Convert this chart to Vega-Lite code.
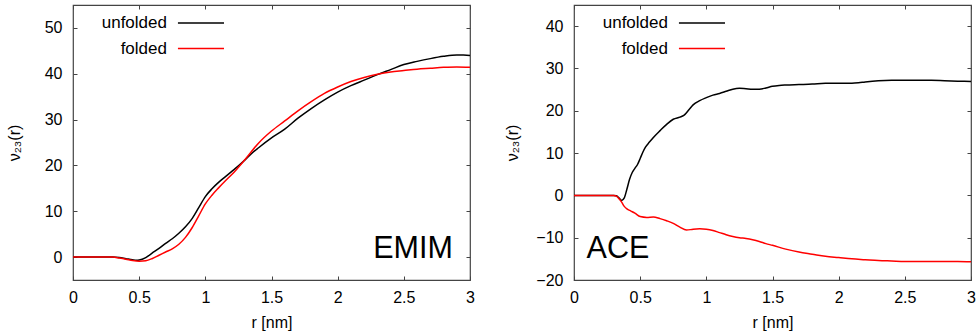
{
  "$schema": "https://vega.github.io/schema/vega-lite/v6.json",
  "padding": {"left": 5, "top": 3, "right": 5, "bottom": 2},
  "spacing": 28,
  "config": {
    "font": "Liberation Sans",
    "view": {"stroke": "#444", "strokeWidth": 1.2},
    "axis": {
      "grid": false,
      "domain": false,
      "tickColor": "#444",
      "tickSize": -4,
      "labelFontSize": 16,
      "labelColor": "#000",
      "titleFontSize": 16,
      "titleFontWeight": "normal",
      "titleColor": "#000",
      "format": "~r"
    }
  },
  "datasets": {
    "emim": [
      {"r":0,"v":0,"series":"unfolded"},{"r":0.1,"v":0,"series":"unfolded"},{"r":0.2,"v":0,"series":"unfolded"},{"r":0.3,"v":0,"series":"unfolded"},{"r":0.35,"v":-0.1,"series":"unfolded"},{"r":0.4,"v":-0.35,"series":"unfolded"},{"r":0.45,"v":-0.6,"series":"unfolded"},{"r":0.48,"v":-0.7,"series":"unfolded"},{"r":0.5,"v":-0.65,"series":"unfolded"},{"r":0.55,"v":-0.1,"series":"unfolded"},{"r":0.6,"v":0.9,"series":"unfolded"},{"r":0.65,"v":1.9,"series":"unfolded"},{"r":0.7,"v":3.0,"series":"unfolded"},{"r":0.75,"v":4.0,"series":"unfolded"},{"r":0.8,"v":5.2,"series":"unfolded"},{"r":0.85,"v":6.6,"series":"unfolded"},{"r":0.9,"v":8.4,"series":"unfolded"},{"r":0.95,"v":10.8,"series":"unfolded"},{"r":1.0,"v":13.2,"series":"unfolded"},{"r":1.05,"v":14.9,"series":"unfolded"},{"r":1.1,"v":16.3,"series":"unfolded"},{"r":1.15,"v":17.5,"series":"unfolded"},{"r":1.2,"v":18.7,"series":"unfolded"},{"r":1.25,"v":19.9,"series":"unfolded"},{"r":1.3,"v":21.2,"series":"unfolded"},{"r":1.35,"v":22.6,"series":"unfolded"},{"r":1.4,"v":23.8,"series":"unfolded"},{"r":1.5,"v":26.0,"series":"unfolded"},{"r":1.6,"v":27.9,"series":"unfolded"},{"r":1.7,"v":30.3,"series":"unfolded"},{"r":1.8,"v":32.4,"series":"unfolded"},{"r":1.9,"v":34.3,"series":"unfolded"},{"r":2.0,"v":36.0,"series":"unfolded"},{"r":2.1,"v":37.4,"series":"unfolded"},{"r":2.2,"v":38.6,"series":"unfolded"},{"r":2.3,"v":39.8,"series":"unfolded"},{"r":2.4,"v":40.9,"series":"unfolded"},{"r":2.5,"v":42.0,"series":"unfolded"},{"r":2.6,"v":42.7,"series":"unfolded"},{"r":2.7,"v":43.3,"series":"unfolded"},{"r":2.8,"v":43.8,"series":"unfolded"},{"r":2.9,"v":44.1,"series":"unfolded"},{"r":2.95,"v":44.1,"series":"unfolded"},{"r":3.0,"v":44.0,"series":"unfolded"},
      {"r":0,"v":0,"series":"folded"},{"r":0.1,"v":0,"series":"folded"},{"r":0.2,"v":0,"series":"folded"},{"r":0.3,"v":0,"series":"folded"},{"r":0.35,"v":-0.2,"series":"folded"},{"r":0.4,"v":-0.45,"series":"folded"},{"r":0.45,"v":-0.75,"series":"folded"},{"r":0.5,"v":-0.9,"series":"folded"},{"r":0.55,"v":-0.8,"series":"folded"},{"r":0.6,"v":-0.3,"series":"folded"},{"r":0.65,"v":0.4,"series":"folded"},{"r":0.7,"v":1.1,"series":"folded"},{"r":0.75,"v":1.8,"series":"folded"},{"r":0.8,"v":2.8,"series":"folded"},{"r":0.85,"v":4.3,"series":"folded"},{"r":0.9,"v":6.4,"series":"folded"},{"r":0.95,"v":9.0,"series":"folded"},{"r":1.0,"v":11.6,"series":"folded"},{"r":1.05,"v":13.5,"series":"folded"},{"r":1.1,"v":15.1,"series":"folded"},{"r":1.15,"v":16.6,"series":"folded"},{"r":1.2,"v":18.0,"series":"folded"},{"r":1.3,"v":21.3,"series":"folded"},{"r":1.4,"v":24.8,"series":"folded"},{"r":1.5,"v":27.5,"series":"folded"},{"r":1.6,"v":29.7,"series":"folded"},{"r":1.7,"v":31.9,"series":"folded"},{"r":1.8,"v":33.9,"series":"folded"},{"r":1.9,"v":35.7,"series":"folded"},{"r":2.0,"v":37.1,"series":"folded"},{"r":2.1,"v":38.3,"series":"folded"},{"r":2.2,"v":39.2,"series":"folded"},{"r":2.3,"v":39.9,"series":"folded"},{"r":2.4,"v":40.4,"series":"folded"},{"r":2.5,"v":40.7,"series":"folded"},{"r":2.6,"v":41.0,"series":"folded"},{"r":2.7,"v":41.2,"series":"folded"},{"r":2.8,"v":41.4,"series":"folded"},{"r":2.9,"v":41.5,"series":"folded"},{"r":3.0,"v":41.4,"series":"folded"}
    ],
    "ace": [
      {"r":0,"v":0,"series":"unfolded"},{"r":0.1,"v":0,"series":"unfolded"},{"r":0.2,"v":0,"series":"unfolded"},{"r":0.3,"v":0,"series":"unfolded"},{"r":0.32,"v":-0.1,"series":"unfolded"},{"r":0.34,"v":-0.6,"series":"unfolded"},{"r":0.36,"v":-1.2,"series":"unfolded"},{"r":0.38,"v":-0.6,"series":"unfolded"},{"r":0.4,"v":1.5,"series":"unfolded"},{"r":0.42,"v":3.8,"series":"unfolded"},{"r":0.44,"v":5.4,"series":"unfolded"},{"r":0.46,"v":6.4,"series":"unfolded"},{"r":0.48,"v":7.3,"series":"unfolded"},{"r":0.5,"v":8.7,"series":"unfolded"},{"r":0.52,"v":10.2,"series":"unfolded"},{"r":0.54,"v":11.4,"series":"unfolded"},{"r":0.57,"v":12.6,"series":"unfolded"},{"r":0.6,"v":13.7,"series":"unfolded"},{"r":0.65,"v":15.3,"series":"unfolded"},{"r":0.7,"v":16.8,"series":"unfolded"},{"r":0.75,"v":18.0,"series":"unfolded"},{"r":0.8,"v":18.5,"series":"unfolded"},{"r":0.83,"v":18.9,"series":"unfolded"},{"r":0.87,"v":20.3,"series":"unfolded"},{"r":0.9,"v":21.4,"series":"unfolded"},{"r":0.95,"v":22.4,"series":"unfolded"},{"r":1.0,"v":23.1,"series":"unfolded"},{"r":1.05,"v":23.7,"series":"unfolded"},{"r":1.1,"v":24.1,"series":"unfolded"},{"r":1.15,"v":24.6,"series":"unfolded"},{"r":1.2,"v":25.1,"series":"unfolded"},{"r":1.25,"v":25.3,"series":"unfolded"},{"r":1.3,"v":25.2,"series":"unfolded"},{"r":1.35,"v":25.1,"series":"unfolded"},{"r":1.4,"v":25.1,"series":"unfolded"},{"r":1.45,"v":25.4,"series":"unfolded"},{"r":1.5,"v":25.8,"series":"unfolded"},{"r":1.55,"v":26.0,"series":"unfolded"},{"r":1.6,"v":26.1,"series":"unfolded"},{"r":1.7,"v":26.2,"series":"unfolded"},{"r":1.8,"v":26.3,"series":"unfolded"},{"r":1.9,"v":26.5,"series":"unfolded"},{"r":2.0,"v":26.5,"series":"unfolded"},{"r":2.1,"v":26.5,"series":"unfolded"},{"r":2.15,"v":26.6,"series":"unfolded"},{"r":2.2,"v":26.8,"series":"unfolded"},{"r":2.3,"v":27.1,"series":"unfolded"},{"r":2.4,"v":27.2,"series":"unfolded"},{"r":2.5,"v":27.2,"series":"unfolded"},{"r":2.6,"v":27.2,"series":"unfolded"},{"r":2.7,"v":27.2,"series":"unfolded"},{"r":2.8,"v":27.1,"series":"unfolded"},{"r":2.9,"v":27.0,"series":"unfolded"},{"r":3.0,"v":26.9,"series":"unfolded"},
      {"r":0,"v":0,"series":"folded"},{"r":0.1,"v":0,"series":"folded"},{"r":0.2,"v":0,"series":"folded"},{"r":0.3,"v":0,"series":"folded"},{"r":0.32,"v":-0.2,"series":"folded"},{"r":0.34,"v":-0.8,"series":"folded"},{"r":0.36,"v":-1.6,"series":"folded"},{"r":0.38,"v":-2.6,"series":"folded"},{"r":0.4,"v":-3.2,"series":"folded"},{"r":0.43,"v":-3.7,"series":"folded"},{"r":0.46,"v":-4.2,"series":"folded"},{"r":0.5,"v":-5.0,"series":"folded"},{"r":0.55,"v":-5.2,"series":"folded"},{"r":0.6,"v":-5.1,"series":"folded"},{"r":0.65,"v":-5.5,"series":"folded"},{"r":0.7,"v":-6.0,"series":"folded"},{"r":0.75,"v":-6.6,"series":"folded"},{"r":0.8,"v":-7.5,"series":"folded"},{"r":0.85,"v":-8.2,"series":"folded"},{"r":0.9,"v":-8.0,"series":"folded"},{"r":0.95,"v":-7.9,"series":"folded"},{"r":1.0,"v":-8.0,"series":"folded"},{"r":1.05,"v":-8.3,"series":"folded"},{"r":1.1,"v":-8.8,"series":"folded"},{"r":1.15,"v":-9.3,"series":"folded"},{"r":1.2,"v":-9.7,"series":"folded"},{"r":1.25,"v":-10.0,"series":"folded"},{"r":1.3,"v":-10.2,"series":"folded"},{"r":1.35,"v":-10.5,"series":"folded"},{"r":1.4,"v":-10.9,"series":"folded"},{"r":1.45,"v":-11.4,"series":"folded"},{"r":1.5,"v":-11.8,"series":"folded"},{"r":1.6,"v":-12.7,"series":"folded"},{"r":1.7,"v":-13.4,"series":"folded"},{"r":1.8,"v":-13.9,"series":"folded"},{"r":1.9,"v":-14.4,"series":"folded"},{"r":2.0,"v":-14.7,"series":"folded"},{"r":2.1,"v":-15.0,"series":"folded"},{"r":2.2,"v":-15.2,"series":"folded"},{"r":2.3,"v":-15.4,"series":"folded"},{"r":2.4,"v":-15.5,"series":"folded"},{"r":2.5,"v":-15.6,"series":"folded"},{"r":2.6,"v":-15.6,"series":"folded"},{"r":2.7,"v":-15.6,"series":"folded"},{"r":2.8,"v":-15.6,"series":"folded"},{"r":2.9,"v":-15.6,"series":"folded"},{"r":3.0,"v":-15.7,"series":"folded"}
    ],
    "unf": [{"series": "unfolded"}],
    "fol": [{"series": "folded"}]
  },
  "hconcat": [
    {
      "width": 397,
      "height": 275,
      "layer": [
        {
          "data": {"name": "emim"},
          "mark": {"type": "line", "interpolate": "monotone", "strokeWidth": 1.5},
          "encoding": {
            "x": {"field": "r", "type": "quantitative", "scale": {"domain": [0, 3], "nice": false, "zero": false},
                  "axis": {"orient": "bottom", "values": [0, 0.5, 1, 1.5, 2, 2.5, 3], "title": "r [nm]", "labelPadding": 13, "titlePadding": 9, "labelFlush": false}},
            "y": {"field": "v", "type": "quantitative", "scale": {"domain": [-5, 55], "nice": false, "zero": false},
                  "axis": {"orient": "left", "values": [0, 10, 20, 30, 40, 50], "title": "ν₂₃(r)", "labelPadding": 15, "titlePadding": 22}},
            "color": {"field": "series", "type": "nominal", "legend": null,
                      "scale": {"domain": ["unfolded", "folded"], "range": ["#000000", "#ff0000"]}}
          }
        },
        {
          "data": {"values": [{"label": "EMIM"}]},
          "mark": {"type": "text", "fontSize": 30.5, "align": "right", "baseline": "alphabetic", "color": "#000"},
          "encoding": {
            "text": {"field": "label"},
            "x": {"datum": 2.87, "type": "quantitative", "axis": {"orient": "top", "values": [0, 0.5, 1, 1.5, 2, 2.5, 3], "labels": false, "title": null}},
            "y": {"datum": -0.2, "type": "quantitative", "axis": {"orient": "right", "values": [0, 10, 20, 30, 40, 50], "labels": false, "title": null}}
          }
        },
        {
          "data": {"name": "unf"},
          "mark": {"type": "rule", "strokeWidth": 1.5},
          "encoding": {"x": {"datum": 0.793, "type": "quantitative", "axis": null}, "x2": {"datum": 1.141}, "y": {"datum": 51.1, "type": "quantitative", "axis": null}, "color": {"field": "series", "type": "nominal", "legend": null}}
        },
        {
          "data": {"name": "fol"},
          "mark": {"type": "rule", "strokeWidth": 1.5},
          "encoding": {"x": {"datum": 0.793, "type": "quantitative", "axis": null}, "x2": {"datum": 1.141}, "y": {"datum": 45.5, "type": "quantitative", "axis": null}, "color": {"field": "series", "type": "nominal", "legend": null}}
        },
        {
          "data": {"name": "unf"},
          "mark": {"type": "text", "fontSize": 17, "align": "right", "baseline": "middle", "color": "#000"},
          "encoding": {"text": {"field": "series"}, "x": {"datum": 0.71, "type": "quantitative", "axis": null}, "y": {"datum": 51.1, "type": "quantitative", "axis": null}}
        },
        {
          "data": {"name": "fol"},
          "mark": {"type": "text", "fontSize": 17, "align": "right", "baseline": "middle", "color": "#000"},
          "encoding": {"text": {"field": "series"}, "x": {"datum": 0.71, "type": "quantitative", "axis": null}, "y": {"datum": 45.5, "type": "quantitative", "axis": null}}
        }
      ],
      "resolve": {"axis": {"x": "independent", "y": "independent"}}
    },
    {
      "width": 397,
      "height": 275,
      "layer": [
        {
          "data": {"name": "ace"},
          "mark": {"type": "line", "interpolate": "monotone", "strokeWidth": 1.5},
          "encoding": {
            "x": {"field": "r", "type": "quantitative", "scale": {"domain": [0, 3], "nice": false, "zero": false},
                  "axis": {"orient": "bottom", "values": [0, 0.5, 1, 1.5, 2, 2.5, 3], "title": "r [nm]", "labelPadding": 13, "titlePadding": 9, "labelFlush": false}},
            "y": {"field": "v", "type": "quantitative", "scale": {"domain": [-20, 45], "nice": false, "zero": false},
                  "axis": {"orient": "left", "values": [-20, -10, 0, 10, 20, 30, 40], "title": "ν₂₃(r)", "labelPadding": 15, "titlePadding": 15}},
            "color": {"field": "series", "type": "nominal", "legend": null,
                      "scale": {"domain": ["unfolded", "folded"], "range": ["#000000", "#ff0000"]}}
          }
        },
        {
          "data": {"values": [{"label": "ACE"}]},
          "mark": {"type": "text", "fontSize": 30.5, "align": "left", "baseline": "alphabetic", "color": "#000"},
          "encoding": {
            "text": {"field": "label"},
            "x": {"datum": 0.095, "type": "quantitative", "axis": {"orient": "top", "values": [0, 0.5, 1, 1.5, 2, 2.5, 3], "labels": false, "title": null}},
            "y": {"datum": -14.8, "type": "quantitative", "axis": {"orient": "right", "values": [-20, -10, 0, 10, 20, 30, 40], "labels": false, "title": null}}
          }
        },
        {
          "data": {"name": "unf"},
          "mark": {"type": "rule", "strokeWidth": 1.5},
          "encoding": {"x": {"datum": 0.793, "type": "quantitative", "axis": null}, "x2": {"datum": 1.141}, "y": {"datum": 40.75, "type": "quantitative", "axis": null}, "color": {"field": "series", "type": "nominal", "legend": null}}
        },
        {
          "data": {"name": "fol"},
          "mark": {"type": "rule", "strokeWidth": 1.5},
          "encoding": {"x": {"datum": 0.793, "type": "quantitative", "axis": null}, "x2": {"datum": 1.141}, "y": {"datum": 34.7, "type": "quantitative", "axis": null}, "color": {"field": "series", "type": "nominal", "legend": null}}
        },
        {
          "data": {"name": "unf"},
          "mark": {"type": "text", "fontSize": 17, "align": "right", "baseline": "middle", "color": "#000"},
          "encoding": {"text": {"field": "series"}, "x": {"datum": 0.71, "type": "quantitative", "axis": null}, "y": {"datum": 40.75, "type": "quantitative", "axis": null}}
        },
        {
          "data": {"name": "fol"},
          "mark": {"type": "text", "fontSize": 17, "align": "right", "baseline": "middle", "color": "#000"},
          "encoding": {"text": {"field": "series"}, "x": {"datum": 0.71, "type": "quantitative", "axis": null}, "y": {"datum": 34.7, "type": "quantitative", "axis": null}}
        }
      ],
      "resolve": {"axis": {"x": "independent", "y": "independent"}}
    }
  ],
  "resolve": {"scale": {"color": "independent"}}
}
